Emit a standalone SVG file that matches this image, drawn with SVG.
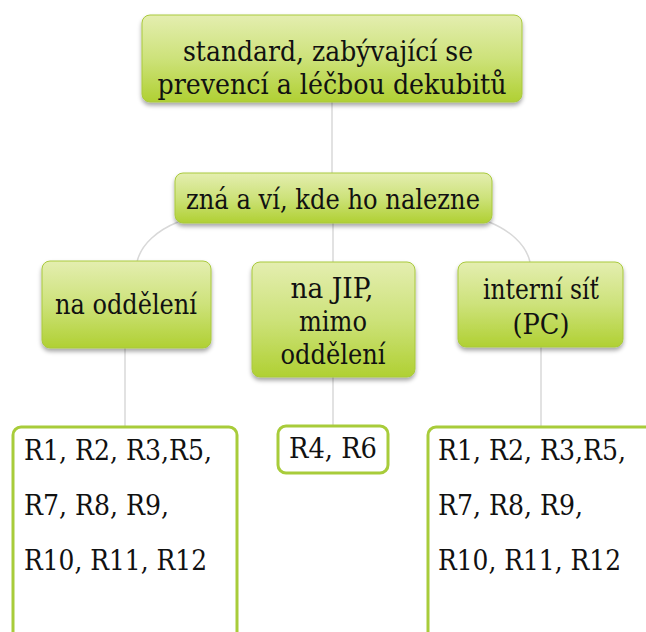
<svg xmlns="http://www.w3.org/2000/svg" width="646" height="632" viewBox="0 0 646 632">
  <defs>
    <linearGradient id="g" x1="0" y1="0" x2="0" y2="1">
      <stop offset="0" stop-color="#e4eeb0"/>
      <stop offset="0.5" stop-color="#cde27a"/>
      <stop offset="1" stop-color="#b0d033"/>
    </linearGradient>
    <filter id="sh" x="-10%" y="-10%" width="120%" height="140%">
      <feDropShadow dx="0" dy="3" stdDeviation="2" flood-color="#000" flood-opacity="0.35"/>
    </filter>
  </defs>
  <style>
    .box { fill: url(#g); stroke: #a9c93c; stroke-width: 1; filter: url(#sh); }
    .leaf { fill: #ffffff; stroke: #a8cc3a; stroke-width: 3; }
    text { font-family: 'DejaVu Serif', serif; font-size: 27px; fill: #111; }
    .big { font-size: 28px; }
    .t { text-anchor: middle; }
    .conn { fill: none; stroke: #d8d8d8; stroke-width: 1.5; }
  </style>
  <rect width="646" height="632" fill="#ffffff"/>

  <g id="connectors">
    <line class="conn" x1="332" y1="102" x2="332" y2="174"/>
    <line class="conn" x1="333" y1="222" x2="333" y2="262"/>
    <path class="conn" d="M178,222 C158,230 141,244 137,262"/>
    <path class="conn" d="M489,222 C509,230 526,244 530,262"/>
    <line class="conn" x1="125" y1="347" x2="125" y2="428"/>
    <line class="conn" x1="333" y1="376" x2="333" y2="427"/>
    <line class="conn" x1="541" y1="346" x2="541" y2="428"/>
  </g>

  <g id="node-root">
    <rect class="box" x="142" y="15" width="380" height="87" rx="8"/>
    <text class="t big" x="328" y="61" textLength="290" lengthAdjust="spacingAndGlyphs">standard, zabývající se</text>
    <text class="t big" x="332" y="94" textLength="349" lengthAdjust="spacingAndGlyphs">prevencí a léčbou dekubitů</text>
  </g>

  <g id="node-zna">
    <rect class="box" x="175" y="173" width="317" height="50" rx="8"/>
    <text class="t" x="333" y="209" textLength="294" lengthAdjust="spacingAndGlyphs">zná a ví, kde ho nalezne</text>
  </g>

  <g id="node-oddeleni">
    <rect class="box" x="42" y="261" width="169" height="87" rx="8"/>
    <text class="t" x="126" y="314" textLength="142" lengthAdjust="spacingAndGlyphs">na oddělení</text>
  </g>

  <g id="node-jip">
    <rect class="box" x="252" y="262" width="163" height="115" rx="8"/>
    <text class="t" x="332" y="298" textLength="83" lengthAdjust="spacingAndGlyphs">na JIP,</text>
    <text class="t" x="333" y="331" textLength="68" lengthAdjust="spacingAndGlyphs">mimo</text>
    <text class="t" x="333" y="364" textLength="105" lengthAdjust="spacingAndGlyphs">oddělení</text>
  </g>

  <g id="node-sit">
    <rect class="box" x="458" y="262" width="165" height="85" rx="8"/>
    <text class="t" x="541" y="299" textLength="116" lengthAdjust="spacingAndGlyphs">interní síť</text>
    <text class="t" x="541" y="334" textLength="57" lengthAdjust="spacingAndGlyphs">(PC)</text>
  </g>

  <g id="leaf-left">
    <rect class="leaf" x="13" y="427" width="224" height="220" rx="8"/>
    <text x="24" y="460" textLength="188" lengthAdjust="spacingAndGlyphs">R1, R2, R3,R5,</text>
    <text x="24" y="515" textLength="145" lengthAdjust="spacingAndGlyphs">R7, R8, R9,</text>
    <text x="24" y="570" textLength="183" lengthAdjust="spacingAndGlyphs">R10, R11, R12</text>
  </g>

  <g id="leaf-mid">
    <rect class="leaf" x="278" y="426" width="110" height="47" rx="8"/>
    <text class="t" x="333" y="458" textLength="88" lengthAdjust="spacingAndGlyphs">R4, R6</text>
  </g>

  <g id="leaf-right">
    <rect class="leaf" x="428" y="427" width="230" height="220" rx="8"/>
    <text x="438" y="460" textLength="188" lengthAdjust="spacingAndGlyphs">R1, R2, R3,R5,</text>
    <text x="438" y="515" textLength="145" lengthAdjust="spacingAndGlyphs">R7, R8, R9,</text>
    <text x="438" y="570" textLength="183" lengthAdjust="spacingAndGlyphs">R10, R11, R12</text>
  </g>
</svg>
